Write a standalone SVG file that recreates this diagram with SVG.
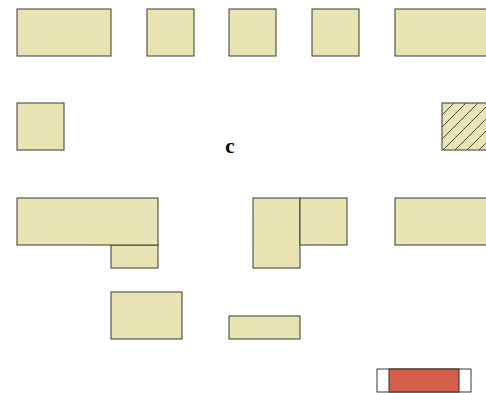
<svg xmlns="http://www.w3.org/2000/svg" width="486" height="393" viewBox="0 0 486 393">
<style>
.b{fill:#e8e4b4;stroke:#3a3a30;stroke-width:1}
.w{fill:#ffffff;stroke:#3a3a30;stroke-width:1}
.r{fill:#d35f4a;stroke:#3a2a20;stroke-width:1}
</style>
<defs>
<pattern id="h" patternUnits="userSpaceOnUse" x="442" y="103" width="12" height="12">
<rect width="12" height="12" fill="#e8e4b4"/>
<path d="M-1,1 L1,-1 M0,12 L12,0 M11,13 L13,11" stroke="#3a3a30" stroke-width="0.9"/>
</pattern>
</defs>
<rect width="486" height="393" fill="#fff"/>
<g id="n1"><rect class="b" x="17" y="9" width="94" height="47"/></g>
<g id="n2"><rect class="b" x="147" y="9" width="47" height="47"/></g>
<g id="n3"><rect class="b" x="229" y="9" width="47" height="47"/></g>
<g id="n4"><rect class="b" x="312" y="9" width="47" height="47"/></g>
<g id="n5"><rect class="b" x="395" y="9" width="94" height="47"/></g>
<g id="n6"><rect class="b" x="17" y="103" width="47" height="47"/></g>
<g id="n7"><rect x="442" y="103" width="47" height="47" fill="url(#h)" stroke="#3a3a30"/></g>
<g id="n8"><rect class="b" x="111" y="245" width="47" height="23"/></g>
<g id="n9"><rect class="b" x="17" y="198" width="141" height="47"/></g>
<g id="n10"><rect class="b" x="253" y="198" width="47" height="70"/></g>
<g id="n11"><rect class="b" x="300" y="198" width="47" height="47"/></g>
<g id="n12"><rect class="b" x="395" y="198" width="94" height="47"/></g>
<g id="n13"><rect class="b" x="111" y="292" width="71" height="47"/></g>
<g id="n14"><rect class="b" x="229" y="316" width="71" height="23"/></g>
<g id="n15">
<rect class="w" x="377" y="369" width="94" height="23"/>
<rect class="r" x="389" y="369" width="70" height="23"/>
</g>
<g id="label"><text x="230" y="153" font-family="Liberation Serif, serif" font-weight="bold" font-size="21" text-anchor="middle">c</text></g>
<g id="connectors"></g>
</svg>
